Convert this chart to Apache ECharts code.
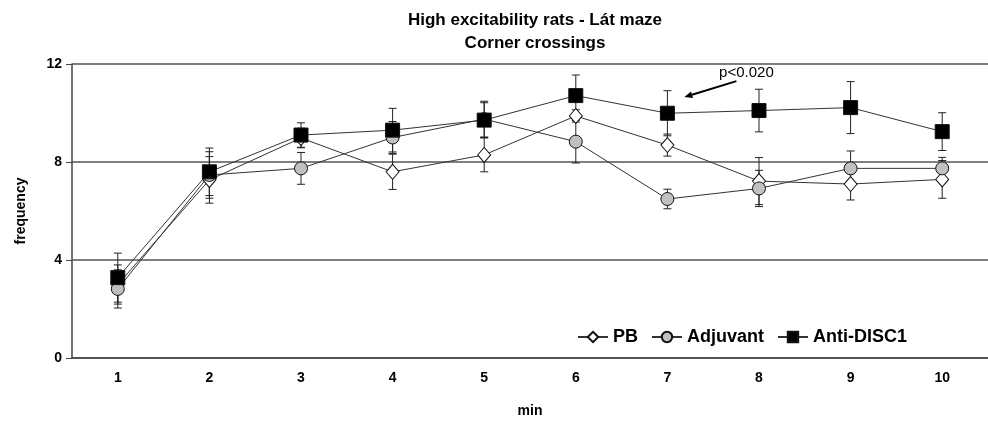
<!DOCTYPE html>
<html>
<head>
<meta charset="utf-8">
<script src="https://cdn.jsdelivr.net/npm/echarts@6/dist/echarts.min.js"></script>
<style>
  html, body { margin: 0; padding: 0; background: #fff; }
  #chart { width: 988px; height: 421px; }
</style>
</head>
<body>
<div id="chart"></div>
<script>
const minutes = ["1", "2", "3", "4", "5", "6", "7", "8", "9", "10"];

const pbMean = [3.0, 7.27, 8.98, 7.6, 8.29, 9.88, 8.69, 7.22, 7.1, 7.29];
const pbErr = [0.8, 0.95, 0.4, 0.72, 0.69, 0.25, 0.45, 0.96, 0.65, 0.77];

const adjMean = [2.82, 7.47, 7.74, 9.0, 9.75, 8.83, 6.49, 6.92, 7.74, 7.74];
const adjErr = [0.78, 0.95, 0.65, 0.65, 0.73, 0.87, 0.4, 0.74, 0.71, 0.45];

const antiMean = [3.28, 7.6, 9.1, 9.3, 9.71, 10.71, 9.99, 10.1, 10.22, 9.24];
const antiErr = [1.0, 0.97, 0.5, 0.89, 0.71, 0.84, 0.92, 0.87, 1.06, 0.77];

const yTicks = [0, 4, 8, 12];

const font = "'Liberation Sans', Arial, sans-serif";
const ink = "#222";

function errData(mean, err) {
  return mean.map((m, i) => [i, m - err[i], m + err[i]]);
}

function errSeries(name, mean, err) {
  return {
    name: name,
    type: "custom",
    z: 1,
    silent: true,
    data: errData(mean, err),
    renderItem(params, api) {
      const x = api.value(0);
      const lo = api.coord([x, api.value(1)]);
      const hi = api.coord([x, api.value(2)]);
      const w = 4;
      const style = { stroke: ink, lineWidth: 1 };
      return {
        type: "group",
        children: [
          { type: "line", shape: { x1: lo[0], y1: lo[1], x2: hi[0], y2: hi[1] }, style },
          { type: "line", shape: { x1: lo[0] - w, y1: lo[1], x2: lo[0] + w, y2: lo[1] }, style },
          { type: "line", shape: { x1: hi[0] - w, y1: hi[1], x2: hi[0] + w, y2: hi[1] }, style }
        ]
      };
    }
  };
}

function lineSeries(name, mean, symbol, size, fill, z) {
  return {
    name: name,
    type: "line",
    z: z,
    data: mean,
    symbol: symbol,
    symbolSize: size,
    showAllSymbol: true,
    lineStyle: { color: "#333", width: 1 },
    itemStyle: { color: fill, borderColor: "#111", borderWidth: 1, opacity: 1 },
    emphasis: { disabled: true }
  };
}

const chart = echarts.init(document.getElementById("chart"));

chart.setOption({
  animation: false,
  backgroundColor: "#fff",
  title: {
    text: "High excitability rats - Lát maze\nCorner crossings",
    left: 530,
    textAlign: "center",
    top: 4,
    textStyle: { fontFamily: font, fontWeight: "bold", fontSize: 17, lineHeight: 23, color: "#000" }
  },
  grid: { left: 72, right: 0, top: 64, bottom: 63, containLabel: false, outerBoundsMode: "none" },
  legend: {
    right: 76,
    top: 323,
    itemWidth: 30,
    itemHeight: 13,
    itemGap: 13,
    data: ["PB", "Adjuvant", "Anti-DISC1"],
    textStyle: { fontFamily: font, fontWeight: "bold", fontSize: 18, color: "#000" }
  },
  xAxis: {
    type: "category",
    data: minutes,
    boundaryGap: true,
    name: "min",
    nameLocation: "middle",
    nameGap: 46,
    nameTextStyle: { fontFamily: font, fontWeight: "bold", fontSize: 14, color: "#000" },
    axisLine: { lineStyle: { color: "#444", width: 1.5 } },
    axisTick: { alignWithLabel: false, length: 6, lineStyle: { color: "#444" } },
    axisLabel: { fontFamily: font, fontWeight: "bold", fontSize: 14, color: "#000", margin: 13 },
    splitLine: { show: false }
  },
  yAxis: {
    type: "value",
    min: yTicks[0],
    max: yTicks[yTicks.length - 1],
    interval: 4,
    name: "frequency",
    nameLocation: "middle",
    nameGap: 44,
    nameRotate: 90,
    nameTextStyle: { fontFamily: font, fontWeight: "bold", fontSize: 14, color: "#000" },
    axisLine: { show: true, lineStyle: { color: "#444", width: 1.5 } },
    axisTick: { show: true, length: 6, lineStyle: { color: "#444" } },
    axisLabel: { fontFamily: font, fontWeight: "bold", fontSize: 14, color: "#000", margin: 10 },
    splitLine: { lineStyle: { color: "#555", width: 1.5 } }
  },
  series: [
    errSeries("PB-err", pbMean, pbErr),
    errSeries("Adjuvant-err", adjMean, adjErr),
    errSeries("Anti-err", antiMean, antiErr),
    lineSeries("PB", pbMean, "diamond", [13, 15], "#fff", 3),
    lineSeries("Adjuvant", adjMean, "circle", 13, "#c0c0c0", 4),
    lineSeries("Anti-DISC1", antiMean, "rect", 14, "#000", 5)
  ]
});

// significance note next to minute 7
const tip = chart.convertToPixel({ xAxisIndex: 0, yAxisIndex: 0 }, [6, 10.65]);
const tail = chart.convertToPixel({ xAxisIndex: 0, yAxisIndex: 0 }, [6, 11.3]);
const hx = tip[0] + 17, hy = tip[1];
const tx = tail[0] + 69, ty = tail[1];
const ang = Math.atan2(ty - hy, tx - hx);
const ah = 8, aw = 3.5;
const bx = hx + ah * Math.cos(ang), by = hy + ah * Math.sin(ang);
chart.setOption({
  graphic: [
    { type: "line", shape: { x1: tx, y1: ty, x2: bx, y2: by }, style: { stroke: "#000", lineWidth: 2 } },
    {
      type: "polygon",
      shape: { points: [[hx, hy], [bx - aw * Math.sin(ang), by + aw * Math.cos(ang)], [bx + aw * Math.sin(ang), by - aw * Math.cos(ang)]] },
      style: { fill: "#000" }
    },
    {
      type: "text",
      x: tx + 10, y: ty - 8,
      style: { text: "p<0.020", fontFamily: font, fontSize: 15, fill: "#000", align: "center", verticalAlign: "middle" }
    }
  ]
});
</script>
</body>
</html>
